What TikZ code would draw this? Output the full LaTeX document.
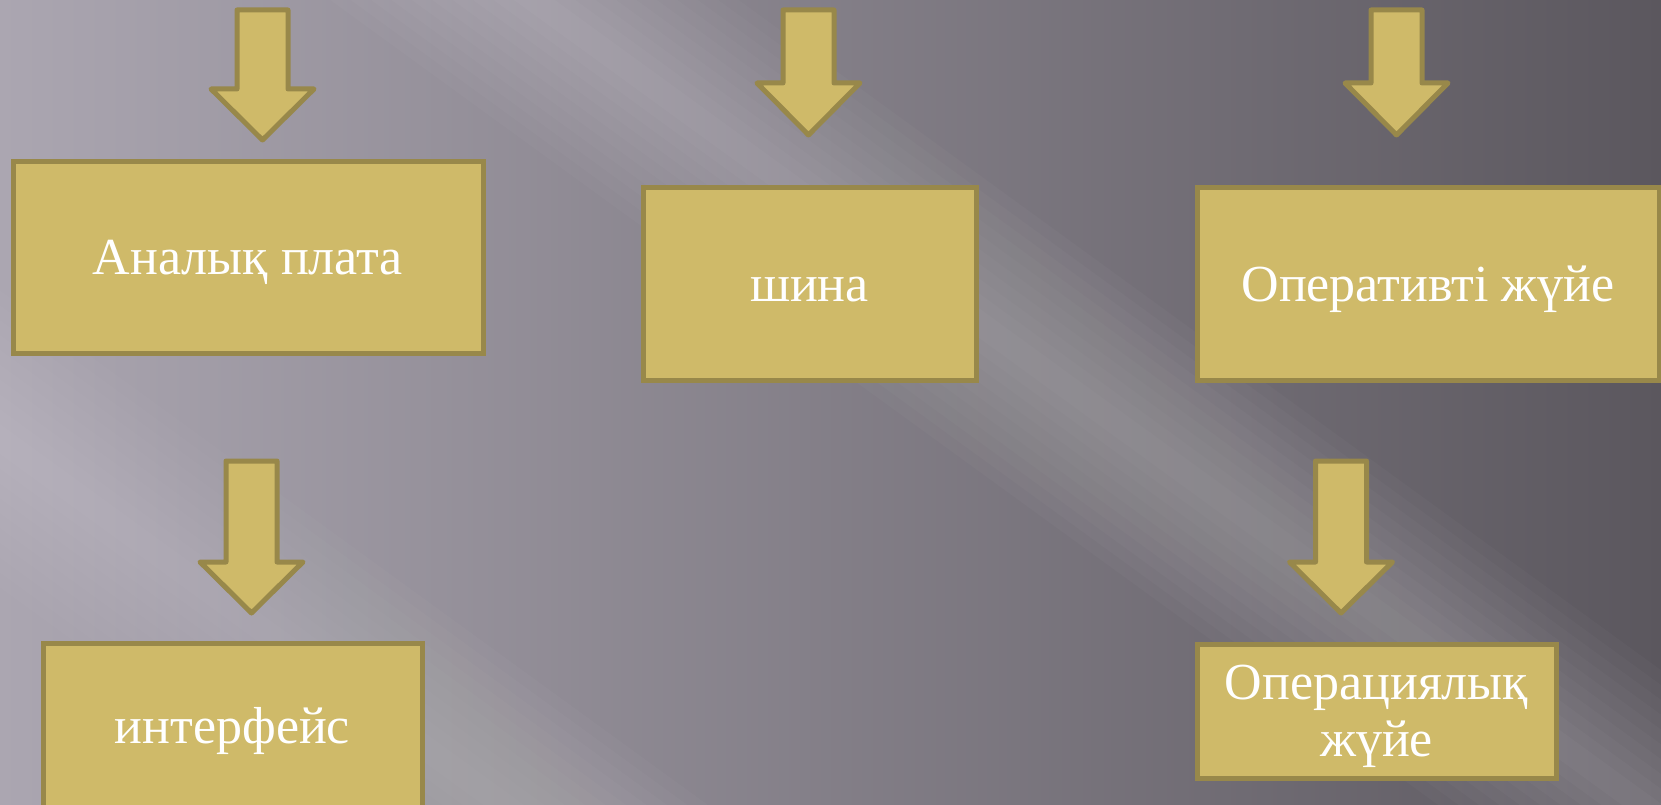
\documentclass[tikz,border=0pt]{standalone}
\usepackage{fontspec}
\setmainfont{Liberation Serif}
\definecolor{boxfill}{HTML}{CFBA69}
\definecolor{boxline}{HTML}{98884A}
\definecolor{bgL}{HTML}{ABA6B1}
\definecolor{bgM}{HTML}{77737B}
\definecolor{bgR}{HTML}{5B575E}
\newcommand\blockarr[4]{%
  \draw[blockarrow] (#1-25.5,#2) -- (#1+25.5,#2) -- (#1+25.5,#3) -- (#1+51.5,#3)
    -- (#1,#4) -- (#1-51.5,#3) -- (#1-25.5,#3) -- cycle;}
\begin{document}
\begin{tikzpicture}[x=1pt,y=-1pt,
  box/.style={draw=boxline, fill=boxfill, line width=5pt, text=white,
    font=\fontsize{52}{57}\selectfont, inner sep=0pt, text height=34pt, text depth=0pt},
  blockarrow/.style={draw=boxline, fill=boxfill, line width=5pt, line join=round}]
\useasboundingbox (0,0) rectangle (1661,805);
\clip (0,0) rectangle (1661,805);
% background
\shade[left color=bgL, middle color=bgM, right color=bgR] (0,0) rectangle (1661,805);
\begin{scope}[shift={(500,-25)}, rotate=-36]
  \foreach \w in {12,24,...,120} \fill[white, opacity=0.022] (-500,-\w) rectangle (1600,\w);
\end{scope}
\begin{scope}[shift={(-150,330)}, rotate=-36]
  \foreach \w in {12,24,...,120} \fill[white, opacity=0.02] (-500,-\w) rectangle (1200,\w);
\end{scope}
% arrows
\blockarr{262.5}{10}{89}{140}
\blockarr{808.5}{10}{83}{135}
\blockarr{1396.5}{10}{83}{135}
\blockarr{251.5}{461}{562}{613}
\blockarr{1341}{461}{562}{613}
% boxes
\node[box, minimum width=470pt, minimum height=191pt] (b1) at (248,257.5) {Аналық плата};
\node[box, minimum width=333pt, minimum height=192pt] (b2) at (809.5,284) {шина};
\node[box, minimum width=462pt, minimum height=192pt] (b3) at (1428,284) {Оперативті жүйе};
\node[box, minimum width=379pt, minimum height=167pt] (b4) at (232.5,726.5) {интерфейс};
\node[box, minimum width=359pt, minimum height=134pt, align=center, text height=91pt, text depth=0pt] (b5) at (1376.5,711) {Операциялық\\жүйе};
\end{tikzpicture}
\end{document}
